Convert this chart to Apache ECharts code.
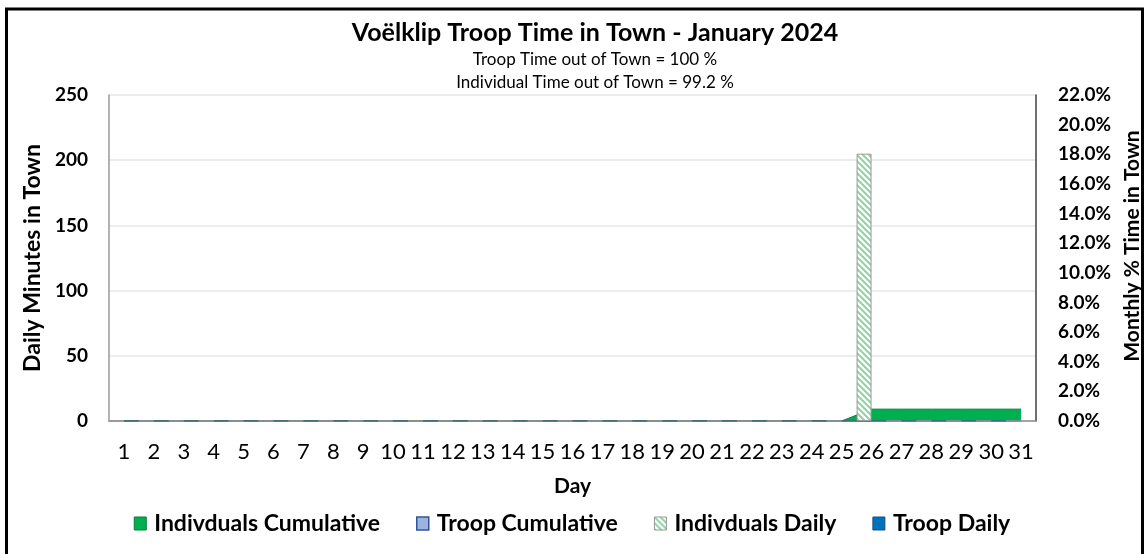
<!DOCTYPE html>
<html>
<head>
<meta charset="utf-8">
<script src="https://cdn.jsdelivr.net/npm/echarts@6/dist/echarts.min.js"></script>
<style>
html, body { margin: 0; padding: 0; background: #fff; }
#chart { width: 1144px; height: 554px; }
</style>
</head>
<body>
<div id="chart"></div>
<script>
// days of January 2024
var days = ['1','2','3','4','5','6','7','8','9','10','11','12','13','14','15','16',
	'17','18','19','20','21','22','23','24','25','26','27','28','29','30','31'];
// monthly % time in town (right axis)
var indCumulative = [0,0,0,0,0,0,0,0,0,0,0,0,0,0,0,0,0,0,0,0,0,0,0,0,0,0.8,0.8,0.8,0.8,0.8,0.8];
var troopCumulative = [0,0,0,0,0,0,0,0,0,0,0,0,0,0,0,0,0,0,0,0,0,0,0,0,0,0,0,0,0,0,0];
// daily minutes in town (left axis)
var indDaily = [0,0,0,0,0,0,0,0,0,0,0,0,0,0,0,0,0,0,0,0,0,0,0,0,0,205,0,0,0,0,0];
var troopDaily = [0,0,0,0,0,0,0,0,0,0,0,0,0,0,0,0,0,0,0,0,0,0,0,0,0,0,0,0,0,0,0];

var FONT = 'Lato';

function hatch() {
	var c = document.createElement('canvas');
	c.width = 6; c.height = 6;
	var g = c.getContext('2d');
	g.fillStyle = '#ffffff';
	g.fillRect(0, 0, 6, 6);
	g.strokeStyle = '#8fd3a3';
	g.lineWidth = 2;
	g.beginPath();
	g.moveTo(0, 0); g.lineTo(6, 6);
	g.moveTo(-3, 3); g.lineTo(3, 9);
	g.moveTo(3, -3); g.lineTo(9, 3);
	g.stroke();
	return c;
}
var hatchFill = { image: hatch(), repeat: 'repeat' };

var chart = echarts.init(document.getElementById('chart'));
chart.setOption({
	animation: false,
	textStyle: { fontFamily: FONT },
	title: {
		text: 'Voëlklip Troop Time in Town - January 2024',
		subtext: 'Troop Time out of Town = 100 %\nIndividual Time out of Town = 99.2 %',
		left: 590,
		textAlign: 'center',
		top: 15,
		itemGap: 3,
		textStyle: { fontFamily: FONT, fontSize: 25, fontWeight: 'bold', color: '#000' },
		subtextStyle: { fontFamily: FONT, fontSize: 17, color: '#000', lineHeight: 23 }
	},
	legend: {
		bottom: 14,
		left: 'center',
		itemWidth: 12,
		itemHeight: 13,
		itemGap: 36,
		icon: 'rect',
		textStyle: { fontFamily: FONT, fontSize: 23, fontWeight: 'bold', color: '#000', padding: [0, 0, 0, 3] },
		data: [
			{ name: 'Indivduals Cumulative', itemStyle: { color: '#00b050', borderColor: '#0c7a3a', borderWidth: 1 } },
			{ name: 'Troop Cumulative', itemStyle: { color: '#9db3e0', borderColor: '#2f5597', borderWidth: 1.5 } },
			{ name: 'Indivduals Daily', itemStyle: { color: hatchFill, borderColor: '#999', borderWidth: 1 } },
			{ name: 'Troop Daily', itemStyle: { color: '#0070c0', borderColor: '#1f4e79', borderWidth: 1 } }
		]
	},
	graphic: [{
		type: 'rect',
		shape: { x: 6.5, y: 9, width: 1136, height: 560 },
		style: { fill: 'none', stroke: '#000', lineWidth: 3 },
		silent: true
	}],
	grid: { left: 109, right: 108, top: 95, bottom: 133, outerBoundsMode: 'none', containLabel: false },
	xAxis: {
		type: 'category',
		data: days,
		name: 'Day',
		nameLocation: 'middle',
		nameGap: 55,
		nameTextStyle: { fontFamily: FONT, fontSize: 21, fontWeight: 'bold', color: '#000' },
		axisLine: { lineStyle: { color: '#8c8c8c', width: 1.5 } },
		axisTick: { alignWithLabel: false, length: 7, lineStyle: { color: '#8c8c8c', width: 1.5 } },
		axisLabel: { fontFamily: FONT, fontSize: 22, color: '#000', margin: 20, interval: 0 }
	},
	yAxis: [{
		type: 'value',
		min: 0, max: 250, interval: 50,
		name: 'Daily Minutes in Town',
		nameLocation: 'middle',
		nameGap: 65,
		nameTextStyle: { fontFamily: FONT, fontSize: 23, fontWeight: 'bold', color: '#000' },
		axisLine: { show: true, lineStyle: { color: '#9a9a9a', width: 1.5 } },
		axisTick: { show: false },
		axisLabel: { fontFamily: FONT, fontSize: 19, fontWeight: 'bold', color: '#000', margin: 21 },
		splitLine: { lineStyle: { color: '#e6e6e6', width: 1.5 } }
	}, {
		type: 'value',
		min: 0, max: 22, interval: 2,
		name: 'Monthly % Time in Town',
		nameLocation: 'middle',
		nameGap: 77,
		nameTextStyle: { fontFamily: FONT, fontSize: 21, fontWeight: 'bold', color: '#000', padding: [0, 0, 0, 24] },
		axisLine: { show: true, lineStyle: { color: '#404040', width: 1.5 } },
		axisTick: { show: false },
		axisLabel: {
			fontFamily: FONT, fontSize: 19, fontWeight: 'bold', color: '#000', margin: 22,
			formatter: function (v) { return v.toFixed(1) + '%'; }
		},
		splitLine: { show: false }
	}],
	series: [{
		name: 'Indivduals Cumulative',
		type: 'line',
		yAxisIndex: 1,
		data: indCumulative,
		symbol: 'none',
		lineStyle: { color: '#0c7a3a', width: 1 },
		itemStyle: { color: '#00b050' },
		areaStyle: { color: '#00b050', opacity: 1 },
		z: 2
	}, {
		name: 'Troop Cumulative',
		type: 'line',
		yAxisIndex: 1,
		data: troopCumulative,
		symbol: 'none',
		lineStyle: { color: '#44617f', width: 1.5 },
		itemStyle: { color: '#9db3e0' },
		areaStyle: { color: '#9db3e0', opacity: 1 },
		z: 3
	}, {
		name: 'Indivduals Daily',
		type: 'bar',
		data: indDaily,
		barWidth: '50%',
		barGap: '0%',
		itemStyle: { color: hatchFill, borderColor: '#999', borderWidth: 1 },
		z: 4
	}, {
		name: 'Troop Daily',
		type: 'bar',
		data: troopDaily,
		barWidth: '50%',
		barGap: '0%',
		itemStyle: { color: '#0070c0' },
		z: 4
	}]
});
</script>
</body>
</html>
